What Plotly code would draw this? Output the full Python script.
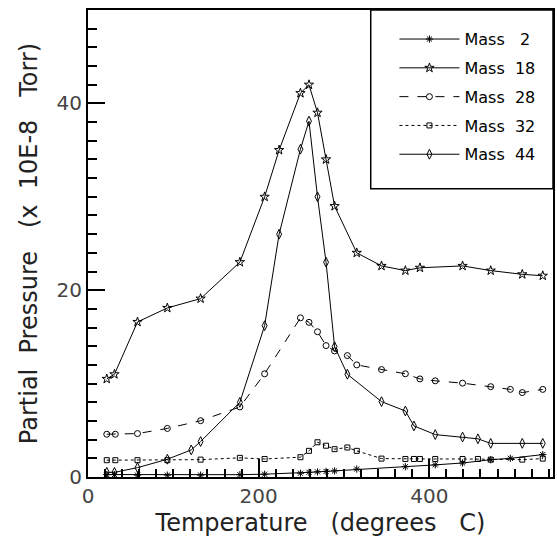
import plotly.graph_objects as go

# Temperature (degrees C) and partial pressures (x 10E-8 Torr)
t18 = [22, 31, 58, 93, 132, 178, 207, 224, 249, 259, 269, 279, 289, 315, 344, 372, 389, 439, 472, 509, 533]
m18 = [10.5, 11.0, 16.6, 18.1, 19.1, 23.0, 30.0, 35.0, 41.1, 42.0, 39.0, 34.0, 29.0, 24.0, 22.6, 22.1, 22.4, 22.6, 22.1, 21.7, 21.55]

t44 = [22, 31, 58, 93, 121, 132, 178, 207, 224, 249, 259, 269, 279, 289, 304, 344, 372, 382, 407, 439, 457, 472, 509, 533]
m44 = [0.5, 0.5, 1.0, 1.9, 2.9, 3.8, 8.0, 16.2, 26.0, 35.1, 38.1, 30.0, 23.0, 13.95, 11.0, 8.07, 7.07, 5.47, 4.54, 4.28, 4.09, 3.6, 3.6, 3.6]

t28 = [22, 32, 58, 93, 132, 178, 207, 249, 259, 269, 279, 289, 304, 315, 344, 372, 389, 407, 439, 472, 495, 509, 533]
m28 = [4.58, 4.58, 4.65, 5.2, 6.03, 7.5, 11.05, 17.04, 16.56, 15.55, 14.07, 13.5, 13.0, 12.0, 11.5, 11.05, 10.5, 10.3, 10.05, 9.67, 9.38, 9.04, 9.38]

t32 = [22, 32, 58, 93, 132, 178, 207, 249, 259, 269, 279, 289, 304, 315, 344, 372, 382, 389, 407, 439, 457, 472, 509, 533]
m32 = [1.8, 1.8, 1.8, 1.8, 1.86, 2.05, 1.93, 2.12, 2.8, 3.72, 3.35, 2.98, 3.16, 2.8, 1.97, 1.93, 1.93, 1.93, 1.93, 1.93, 1.93, 1.86, 1.86, 1.97]

t2 = [22, 31, 58, 93, 132, 178, 207, 249, 259, 269, 279, 289, 315, 372, 407, 439, 472, 495, 533]
m2 = [0.26, 0.26, 0.2, 0.2, 0.2, 0.25, 0.3, 0.4, 0.5, 0.55, 0.6, 0.65, 0.85, 1.1, 1.3, 1.5, 1.85, 2.0, 2.4]

series = [
    ("Mass&nbsp;&nbsp;&nbsp;2", t2, m2, "solid", "asterisk-open", 6),
    ("Mass&nbsp;&nbsp;18", t18, m18, "solid", "star-open", 7),
    ("Mass&nbsp;&nbsp;28", t28, m28, "dash", "circle-open", 6),
    ("Mass&nbsp;&nbsp;32", t32, m32, "dot", "square-open", 5),
    ("Mass&nbsp;&nbsp;44", t44, m44, "solid", "diamond-tall-open", 7),
]

FONT = "DejaVu Sans"

fig = go.Figure()
for i, (name, x, y, dash, sym, size) in enumerate(series):
    fig.add_trace(go.Scatter(
        x=x, y=y, name=name, mode="lines+markers", legendgroup=str(i),
        line=dict(color="black", width=1, dash=dash),
        marker=dict(symbol=sym, size=size, color="black", line=dict(color="black", width=1)),
    ))

axis_common = dict(
    showgrid=False, zeroline=False, showline=True, linecolor="black", linewidth=2,
    mirror=True, ticks="inside", tickcolor="black", tickwidth=2,
    tickfont=dict(family=FONT, size=20, color="#444"),
)

fig.update_layout(
    width=557, height=544,
    margin=dict(l=88, r=2, t=10, b=67),
    paper_bgcolor="white", plot_bgcolor="white",
    showlegend=True,
    legend=dict(
        x=0.659, y=0.974, xanchor="left", yanchor="top",
        bgcolor="rgba(0,0,0,0)", borderwidth=0,
        font=dict(family=FONT, size=16, color="black"),
        itemwidth=60, tracegroupgap=5,
    ),
    xaxis=dict(
        range=[0, 545], dtick=200, ticklen=18,
        minor=dict(dtick=20, ticklen=8, ticks="inside", tickcolor="black", tickwidth=2),
        title=dict(text="Temperature&nbsp;&nbsp;&nbsp;(degrees&nbsp;&nbsp;&nbsp;C)",
                   font=dict(family=FONT, size=24, color="#222"), standoff=7),
        **axis_common,
    ),
    yaxis=dict(
        range=[0, 50], dtick=20, ticklen=17,
        minor=dict(dtick=2, ticklen=9, ticks="inside", tickcolor="black", tickwidth=2),
        title=dict(text="Partial&nbsp;&nbsp;Pressure&nbsp;&nbsp;&nbsp;(x&nbsp;&nbsp;10E-8&nbsp;&nbsp;&nbsp;Torr)",
                   font=dict(family=FONT, size=24, color="#222"), standoff=12),
        **axis_common,
    ),
    shapes=[dict(type="rect", xref="paper", yref="paper",
                 x0=0.608, x1=1.0, y0=0.617, y1=1.0,
                 line=dict(color="black", width=1.5), fillcolor="rgba(0,0,0,0)")],
)

fig.write_html("out.html")
